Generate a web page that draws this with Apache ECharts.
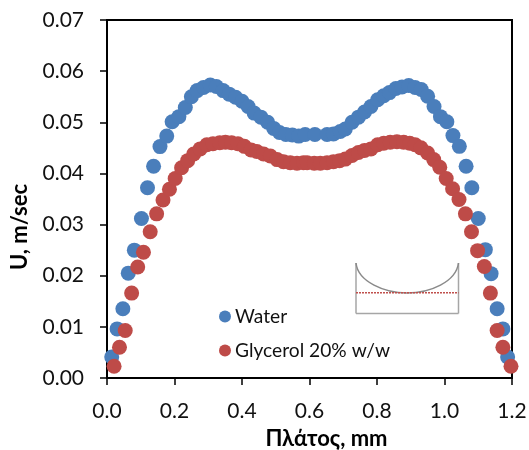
<!DOCTYPE html>
<html><head><meta charset="utf-8">
<style>html,body{margin:0;padding:0;background:#fff}#c{width:529px;height:450px}</style>
<script src="https://cdn.jsdelivr.net/npm/echarts@6/dist/echarts.min.js"></script>
</head><body><div id="c"></div>
<script>
const waterX = [.014,.03,.047,.063,.081,.102,.12,.138,.157,.177,.193,.213,.232,.25,.267,.286,.306,.324,.344,.362,.381,.4,.418,.436,.456,.476,.494,.511,.53,.549,.568,.587,.616,.652,.671,.691,.706,.726,.745,.763,.782,.802,.82,.837,.856,.874,.894,.913,.931,.95,.969,.988,1.007,1.025,1.044,1.064,1.081,1.1,1.121,1.138,1.156,1.173,1.187];
const waterU = [.0041,.0096,.01355,.0205,.025,.0312,.0372,.0414,.04525,.0473,.0501,.0511,.0529,.055,.0562,.0568,.0573,.057,.0562,.0555,.0549,.0541,.0531,.0518,.051,.05,.0488,.048,.0476,.0475,.0473,.0476,.0476,.0476,.0477,.0482,.0487,.05,.051,.052,.0531,.0544,.0552,.0558,.0566,.0569,.0572,.0568,.0564,.0551,.0531,.0511,.0501,.0474,.0453,.0414,.0372,.0312,.0251,.0204,.01355,.0096,.0041];
const glycerolX = [.021,.037,.054,.073,.091,.108,.128,.147,.166,.185,.202,.221,.239,.257,.276,.296,.314,.334,.351,.369,.388,.407,.427,.444,.464,.484,.504,.523,.543,.563,.582,.593,.614,.632,.652,.671,.689,.706,.726,.745,.763,.782,.802,.82,.839,.859,.879,.897,.913,.93,.95,.968,.986,1.005,1.024,1.043,1.062,1.08,1.098,1.118,1.136,1.156,1.173,1.197];
const glycerolU = [.0023,.006,.0093,.0166,.0217,.0246,.0286,.0321,.0348,.0369,.039,.0411,.0425,.0438,.0448,.0456,.0458,.046,.0461,.046,.0458,.0453,.0446,.0443,.0438,.0434,.0427,.0423,.0421,.042,.0421,.0421,.042,.042,.0421,.0423,.0425,.0428,.0435,.0441,.0445,.0448,.0456,.0459,.0461,.0462,.0461,.0459,.0456,.045,.044,.0427,.0412,.039,.037,.0349,.0321,.0286,.0249,.0218,.0166,.0093,.006,.0023];
const seriesNames = ['Water','Glycerol 20% w/w'];
const xTitle = 'Πλάτος, mm';
const yTitle = 'U, m/sec';
const FONT = "Lato, 'Open Sans', sans-serif";
const zip = (a,b)=>a.map((v,i)=>[v,b[i]]);
const axisCommon = {
  axisLine:{show:true,onZero:false,lineStyle:{color:'#000',width:2}},
  axisTick:{show:true,length:7,lineStyle:{color:'#000',width:1.5}},
  splitLine:{show:false},
  nameLocation:'middle'
};
const nameStyle = {fontFamily:FONT,fontSize:22,fontWeight:'bold',color:'#000'};
const chart = echarts.init(document.getElementById('c'),null,{renderer:'canvas'});
const bez=(x1,y1,cx1,cy1,cx2,cy2,x2,y2)=>({type:'bezierCurve',silent:true,shape:{x1,y1,cpx1:cx1,cpy1:cy1,cpx2:cx2,cpy2:cy2,x2,y2},style:{stroke:'#8a8a8a',lineWidth:1.5,fill:null}});
const line=(x1,y1,x2,y2,style)=>({type:'line',silent:true,shape:{x1,y1,x2,y2},style});
const gray={stroke:'#a6a6a6',lineWidth:1.5};
chart.setOption({
  animation:false,
  backgroundColor:'#fff',
  grid:{left:107,right:17,top:20,height:358,outerBoundsMode:'none',containLabel:false,show:true,borderColor:'#000',borderWidth:2,backgroundColor:'transparent'},
  xAxis:Object.assign({},axisCommon,{type:'value',min:0,max:1.2,interval:0.2,name:xTitle,nameGap:50,
    nameTextStyle:Object.assign({},nameStyle,{padding:[0,0,0,34]}),
    axisLabel:{fontFamily:FONT,fontSize:21,color:'#111',margin:23,formatter:v=>v.toFixed(1)}}),
  yAxis:Object.assign({},axisCommon,{type:'value',min:0,max:0.07,interval:0.01,name:yTitle,nameGap:76,
    nameTextStyle:Object.assign({},nameStyle,{padding:[0,56,0,0]}),
    axisLabel:{fontFamily:FONT,fontSize:21,color:'#111',margin:23,formatter:v=>v.toFixed(2)}}),
  legend:{orient:'vertical',left:219,top:307,itemWidth:12,itemHeight:12,itemGap:15,icon:'circle',
    textStyle:{fontFamily:FONT,fontSize:19.2,color:'#111',padding:[0,0,0,-1]},padding:0,
    data:seriesNames},
  graphic:[
    line(356,263,356,313.5,gray),line(458.5,263,458.5,313.5,gray),line(356,313.5,458.5,313.5,gray),
    bez(356,263,358,282,385,293,407,293),
    bez(407,293,430,293,456,282,458.5,263),
    line(356,292.7,458.5,292.7,{stroke:'#c0504d',lineWidth:1.5,lineDash:[2,1]})
  ],
  series:[
    {name:seriesNames[0],type:'scatter',symbol:'circle',symbolSize:15,data:zip(waterX,waterU),itemStyle:{color:'#4a7ebb',opacity:1},clip:false,z:3},
    {name:seriesNames[1],type:'scatter',symbol:'circle',symbolSize:15,data:zip(glycerolX,glycerolU),itemStyle:{color:'#be4b48',opacity:1},clip:false,z:4}
  ]
});
</script></body></html>
